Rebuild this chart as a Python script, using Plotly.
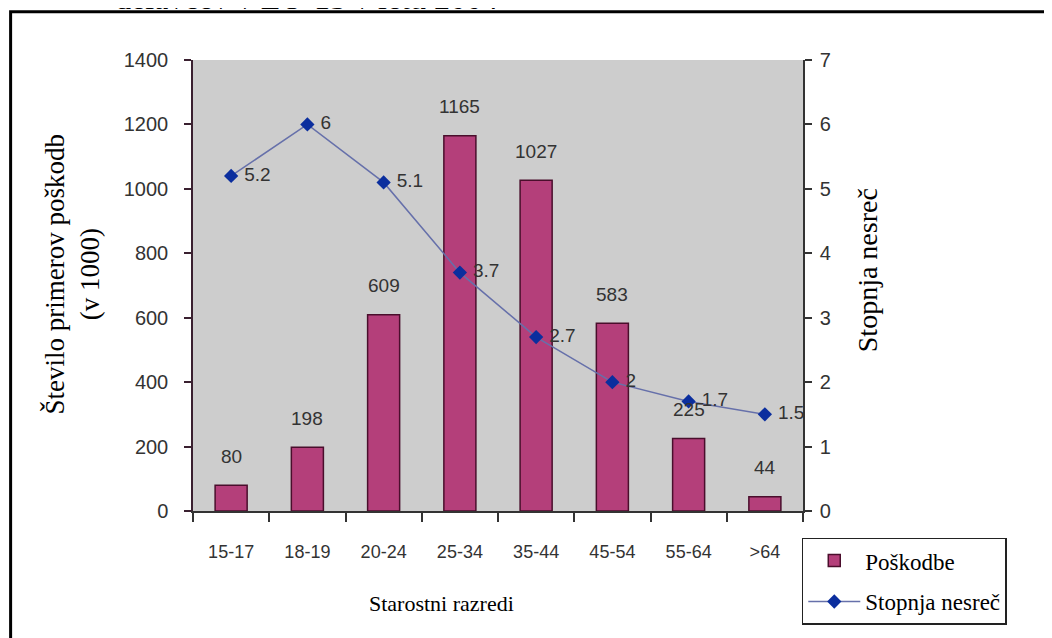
import plotly.graph_objects as go

categories = ["15-17", "18-19", "20-24", "25-34", "35-44", "45-54", "55-64", ">64"]
injuries = [80, 198, 609, 1165, 1027, 583, 225, 44]
accident_rate = [5.2, 6, 5.1, 3.7, 2.7, 2, 1.7, 1.5]
left_ticks = [0, 200, 400, 600, 800, 1000, 1200, 1400]
right_ticks = [0, 1, 2, 3, 4, 5, 6, 7]

SANS = "Liberation Sans, Arial, sans-serif"
SERIF = "Liberation Serif, Times New Roman, serif"
TXT = "#333333"

fig = go.Figure()
fig.add_trace(go.Bar(
    x=categories, y=injuries, name="Poškodbe",
    marker=dict(color="#b43f7a", line=dict(color="#4a0e2c", width=1.5)),
    legendgroup="a",
))
fig.add_trace(go.Scatter(
    x=categories, y=accident_rate, name="Stopnja nesreč", yaxis="y2",
    mode="lines+markers+text",
    text=[" " + str(v) for v in accident_rate], textposition="middle right",
    textfont=dict(family=SANS, size=19, color=TXT),
    line=dict(color="#6670aa", width=1.5),
    marker=dict(symbol="diamond", size=11, color="#0b2e9e"),
    legendgroup="b",
))

annotations = []
for c, v in zip(categories, injuries):
    annotations.append(dict(x=c, y=v, xref="x", yref="y", text=str(v), showarrow=False,
                            yshift=29, yanchor="middle",
                            font=dict(family=SANS, size=19, color=TXT)))
annotations += [
    dict(x=0.408, y=-0.204, xref="paper", yref="paper", text="Starostni razredi",
         showarrow=False, xanchor="center", yanchor="middle",
         font=dict(family=SERIF, size=22, color="#000")),
    dict(x=-0.198, y=0.525, xref="paper", yref="paper",
         text="Število primerov poškodb<br>(v 1000)", textangle=-90,
         showarrow=False, xanchor="center", yanchor="middle",
         font=dict(family=SERIF, size=27, color="#000")),
    dict(x=1.105, y=0.534, xref="paper", yref="paper", text="Stopnja nesreč", textangle=-90,
         showarrow=False, xanchor="center", yanchor="middle",
         font=dict(family=SERIF, size=28, color="#000")),
    dict(x=-0.131, y=1.093, xref="paper", yref="paper", text="delavcev v EU-15 v letu 2004",
         showarrow=False, xanchor="left", yanchor="bottom",
         font=dict(family=SERIF, size=32, color="#000")),
]

fig.update_layout(
    width=1044, height=630,
    margin=dict(l=185, r=249, t=52, b=127),
    paper_bgcolor="white", plot_bgcolor="#cdcdcd",
    bargap=0.58,
    showlegend=True,
    legend=dict(x=0.998, y=-0.252, xanchor="left", yanchor="bottom",
                bgcolor="white", bordercolor="#222", borderwidth=1.5,
                font=dict(family=SERIF, size=23, color="#000"),
                tracegroupgap=8, itemwidth=52),
    annotations=annotations,
    shapes=[dict(type="path", xref="paper", yref="paper",
                 path="M -0.299,-0.5 L -0.299,1.107 L 1.5,1.107",
                 line=dict(color="black", width=3))],
    xaxis=dict(type="category", showgrid=False, showline=True, linecolor="#333", linewidth=1.5,
               ticks="outside", tickson="boundaries", ticklen=9, tickcolor="#333", tickwidth=1.5,
               tickfont=dict(family=SANS, size=18, color=TXT), ticklabelstandoff=24),
    yaxis=dict(range=[0, 1400], tickvals=left_ticks, showgrid=False, zeroline=False,
               showline=True, linecolor="#3a2030", linewidth=1.5,
               ticks="outside", ticklen=7, tickcolor="#3a2030", tickwidth=1.5,
               tickfont=dict(family=SANS, size=20, color=TXT), ticklabelstandoff=12),
    yaxis2=dict(range=[0, 7], tickvals=right_ticks, overlaying="y", side="right",
                showgrid=False, zeroline=False, showline=True, linecolor="#333", linewidth=1.5,
                ticks="outside", ticklen=7, tickcolor="#333", tickwidth=1.5,
                tickfont=dict(family=SANS, size=20, color=TXT), ticklabelstandoff=4),
)

fig.write_html("out.html")
